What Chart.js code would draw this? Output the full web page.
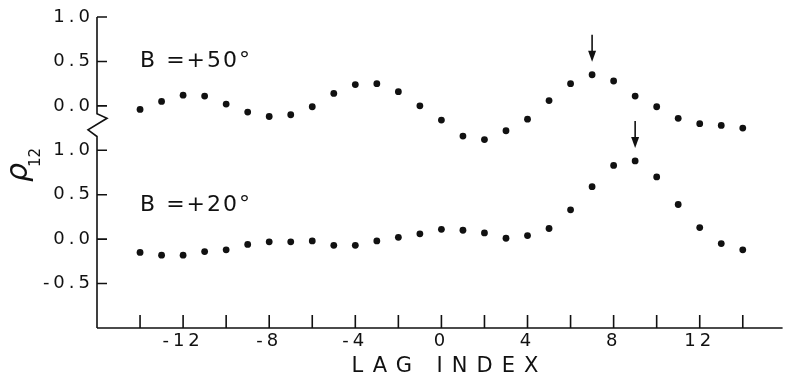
<!DOCTYPE html>
<html>
<head>
<meta charset="utf-8">
<script src="https://cdn.jsdelivr.net/npm/chart.js@4.4.1/dist/chart.umd.min.js"></script>
<style>
  html, body { margin: 0; padding: 0; background: #fff; }
  #quadro { width: 786px; height: 376px; }
</style>
</head>
<body>
<div id="quadro"><canvas id="grafico"></canvas></div>
<script>
// Eixo horizontal: indice de atraso de cada ponto
const lags = [-14, -13, -12, -11, -10, -9, -8, -7, -6, -5, -4, -3, -2, -1, 0,
              1, 2, 3, 4, 5, 6, 7, 8, 9, 10, 11, 12, 13, 14];

// rho_12 para B = +50 (painel de cima)
const rhoB50 = [-0.04, 0.05, 0.12, 0.11, 0.02, -0.07, -0.12, -0.10, -0.01, 0.14,
                0.24, 0.25, 0.16, 0.00, -0.16, -0.34, -0.38, -0.28, -0.15, 0.06,
                0.25, 0.35, 0.28, 0.11, -0.01, -0.14, -0.20, -0.22, -0.25];

// rho_12 para B = +20 (painel de baixo)
const rhoB20 = [-0.15, -0.18, -0.18, -0.14, -0.12, -0.06, -0.03, -0.03, -0.02, -0.07,
                -0.07, -0.02, 0.02, 0.06, 0.11, 0.10, 0.07, 0.01, 0.04, 0.12,
                0.33, 0.59, 0.83, 0.88, 0.70, 0.39, 0.13, -0.05, -0.12];

// Marcas do eixo vertical (escala unica, com o painel de cima deslocado)
const yTickValues = [-0.5, 0.0, 0.5, 1.0, 1.5, 2.0, 2.5];
const yTickLabels = ['-0.5', '0.0', '0.5', '1.0', '0.0', '0.5', '1.0'];

// Marcas do eixo horizontal
const xTickValues = [-14, -12, -10, -8, -6, -4, -2, 0, 2, 4, 6, 8, 10, 12, 14];
const xTickLabels = ['', '-12', '', '-8', '', '-4', '', '0', '', '4', '', '8', '', '12', ''];

const seriesLabels = ['B =+50°', 'B =+20°'];
const peakLags = [7, 9];

// O 0.0 do painel de cima fica em 1.5 na escala comum
const deslocamento = 1.5;

const corTinta = '#111';

const pontosB50 = lags.map((l, i) => ({ x: l, y: rhoB50[i] + deslocamento }));
const pontosB20 = lags.map((l, i) => ({ x: l, y: rhoB20[i] }));

// Desenha eixos, quebra, marcas, setas e textos
const eixosPlugin = {
  id: 'eixos',
  beforeDraw(chart) {
    chart.ctx.letterSpacing = '4px';
  },
  afterDraw(chart) {
    const { ctx, chartArea: area, scales: { x, y } } = chart;
    ctx.save();
    ctx.letterSpacing = '0px';
    ctx.strokeStyle = corTinta;
    ctx.fillStyle = corTinta;
    ctx.lineWidth = 1.6;

    const ax = area.left;
    const yTopo = y.getPixelForValue(2.5);
    const yBase = area.bottom;
    const q0 = y.getPixelForValue(1.5);
    const q1 = y.getPixelForValue(1.0);
    const gap = q1 - q0;

    // eixo vertical com quebra em zigue-zague
    ctx.beginPath();
    ctx.moveTo(ax, yTopo);
    ctx.lineTo(ax, q0 + gap * 0.18);
    ctx.lineTo(ax + 10, q0 + gap * 0.28);
    ctx.lineTo(ax - 9, q0 + gap * 0.54);
    ctx.lineTo(ax, q0 + gap * 0.69);
    ctx.lineTo(ax, yBase);
    // eixo horizontal
    ctx.moveTo(ax, yBase);
    ctx.lineTo(area.right, yBase);
    ctx.stroke();

    // marcas para dentro
    ctx.beginPath();
    yTickValues.forEach(v => {
      const py = y.getPixelForValue(v);
      ctx.moveTo(ax, py);
      ctx.lineTo(ax + 10, py);
    });
    xTickValues.forEach(v => {
      const px = x.getPixelForValue(v);
      ctx.moveTo(px, yBase);
      ctx.lineTo(px, yBase - 13);
    });
    ctx.stroke();

    // setas sobre os picos
    const series = [pontosB50, pontosB20];
    peakLags.forEach((lag, s) => {
      const p = series[s].find(pt => pt.x === lag);
      const px = x.getPixelForValue(p.x);
      const ponta = y.getPixelForValue(p.y) - 13;
      const cauda = ponta - 27;
      ctx.beginPath();
      ctx.moveTo(px, cauda);
      ctx.lineTo(px, ponta - 8);
      ctx.stroke();
      ctx.beginPath();
      ctx.moveTo(px - 4, ponta - 11);
      ctx.lineTo(px + 4, ponta - 11);
      ctx.lineTo(px, ponta);
      ctx.closePath();
      ctx.fill();
    });

    // rotulos das series
    ctx.font = '22px "DejaVu Sans"';
    ctx.letterSpacing = '2px';
    ctx.textAlign = 'left';
    ctx.textBaseline = 'middle';
    ctx.fillText(seriesLabels[0], x.getPixelForValue(-14), y.getPixelForValue(2.0));
    ctx.fillText(seriesLabels[1], x.getPixelForValue(-14), y.getPixelForValue(0.38));

    // titulo do eixo x
    ctx.font = '21px "DejaVu Sans"';
    ctx.letterSpacing = '9px';
    ctx.textAlign = 'center';
    ctx.fillText('LAG INDEX', x.getPixelForValue(0) + 8, yBase + 39);

    // titulo do eixo y: rho com indice 12, girado
    ctx.letterSpacing = '0px';
    ctx.translate(27, 182);
    ctx.rotate(-Math.PI / 2);
    ctx.textAlign = 'left';
    ctx.textBaseline = 'alphabetic';
    ctx.font = 'italic 30px "DejaVu Sans"';
    ctx.fillText('ρ', 0, 0);
    ctx.font = '15px "DejaVu Sans"';
    ctx.fillText('12', 15, 13);

    ctx.restore();
    ctx.letterSpacing = '0px';
  }
};

const estiloPonto = {
  showLine: false,
  pointRadius: 3.4,
  pointHoverRadius: 3.4,
  pointBackgroundColor: corTinta,
  pointBorderColor: corTinta,
  pointBorderWidth: 0
};

const ctx = document.getElementById('grafico').getContext('2d');
new Chart(ctx, {
  type: 'scatter',
  data: {
    datasets: [
      { label: seriesLabels[0], data: pontosB50, ...estiloPonto },
      { label: seriesLabels[1], data: pontosB20, ...estiloPonto }
    ]
  },
  options: {
    responsive: true,
    maintainAspectRatio: false,
    animation: false,
    layout: { padding: { top: 17, right: 0, bottom: 0, left: 0 } },
    plugins: {
      legend: { display: false },
      tooltip: { enabled: false }
    },
    scales: {
      x: {
        type: 'linear',
        min: -16,
        max: 15.85,
        grid: { display: false, drawTicks: false },
        border: { display: false },
        afterBuildTicks: scale => {
          scale.ticks = xTickValues.map(v => ({ value: v }));
        },
        afterFit: scale => { scale.height = 48; },
        ticks: {
          autoSkip: false,
          maxRotation: 0,
          padding: 3,
          color: corTinta,
          font: { family: 'DejaVu Sans', size: 18 },
          callback: (value, index) => xTickLabels[index]
        }
      },
      y: {
        type: 'linear',
        min: -1.0,
        max: 2.5,
        grid: { display: false, drawTicks: false },
        border: { display: false },
        afterBuildTicks: scale => {
          scale.ticks = yTickValues.map(v => ({ value: v }));
        },
        afterFit: scale => { scale.width = 97; },
        ticks: {
          padding: 3,
          color: corTinta,
          font: { family: 'DejaVu Sans', size: 18 },
          callback: (value, index) => yTickLabels[index]
        }
      }
    }
  },
  plugins: [eixosPlugin]
});
</script>
</body>
</html>
